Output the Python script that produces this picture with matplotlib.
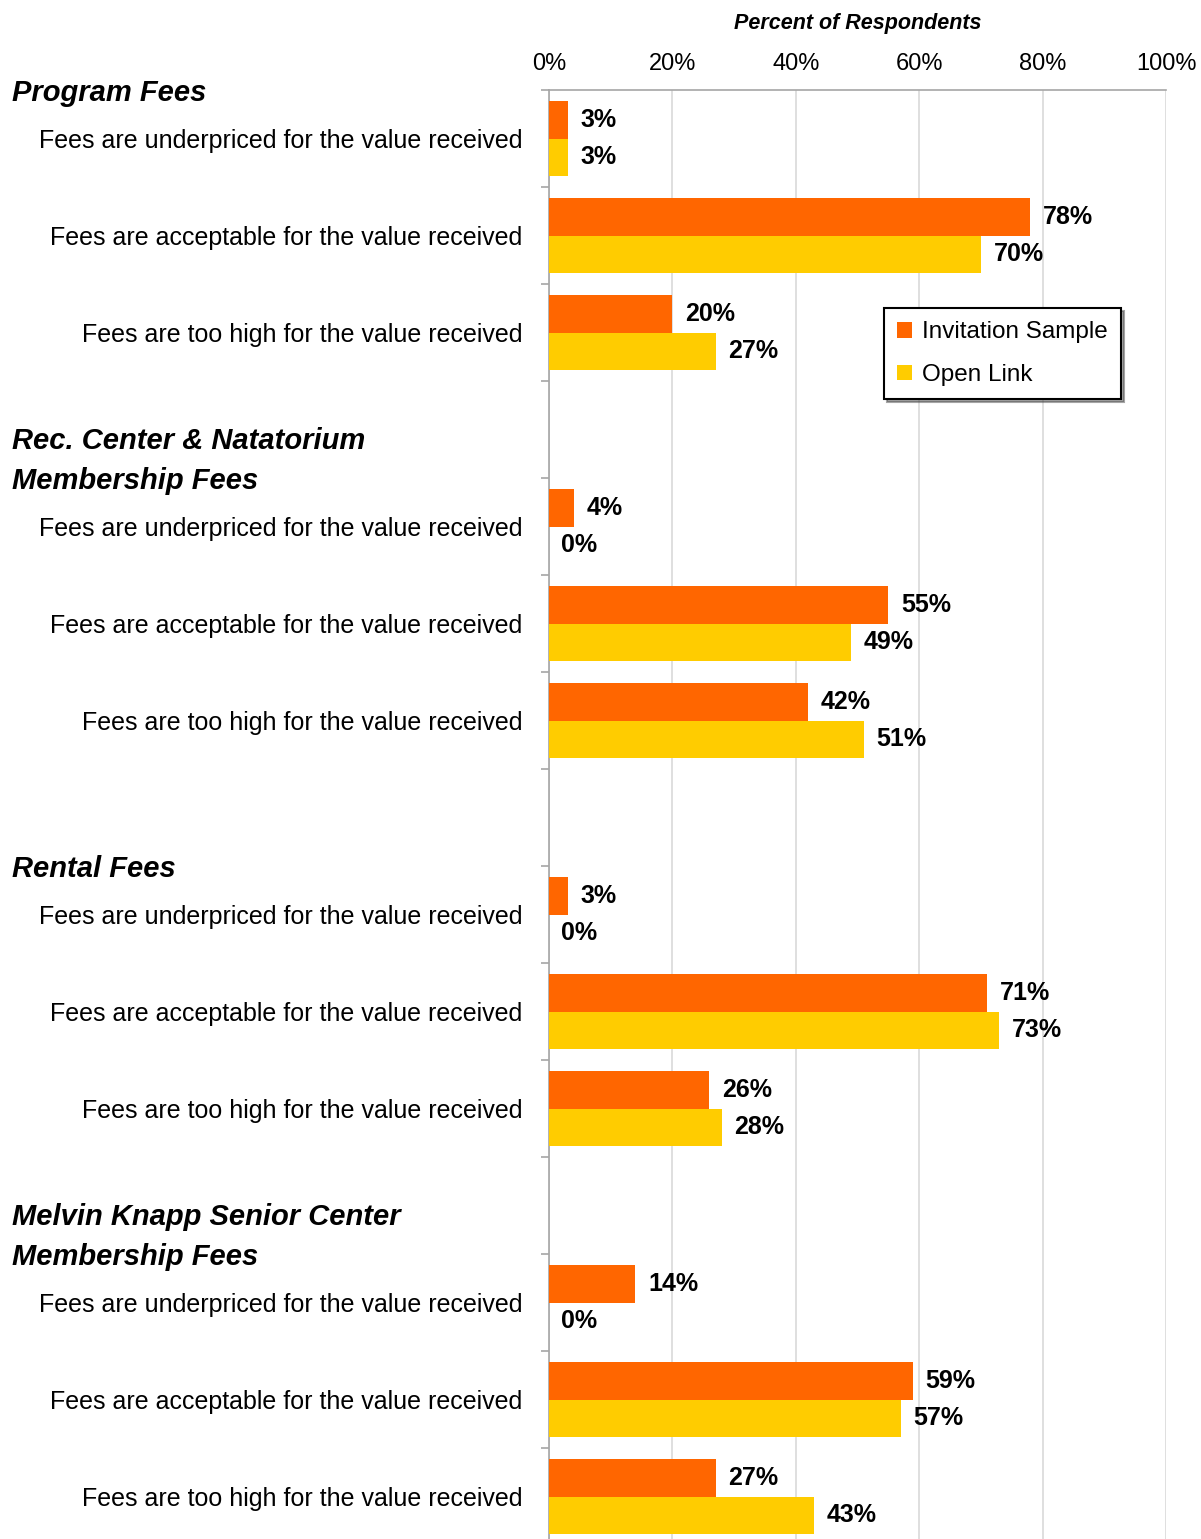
import numpy as np
import matplotlib
matplotlib.use("Agg")
import matplotlib.pyplot as plt
from matplotlib.transforms import blended_transform_factory

plt.rcParams['font.family'] = ['Liberation Sans Narrow', 'Liberation Sans', 'DejaVu Sans']

# Survey data (percent of respondents)
groups = [
    ["Program Fees"],
    ["Rec. Center & Natatorium", "Membership Fees"],
    ["Rental Fees"],
    ["Melvin Knapp Senior Center", "Membership Fees"],
]
responses = [
    "Fees are underpriced for the value received",
    "Fees are acceptable for the value received",
    "Fees are too high for the value received",
]
invitation = [
    [3, 78, 20],
    [4, 55, 42],
    [3, 71, 26],
    [14, 59, 27],
]
open_link = [
    [3, 70, 27],
    [0, 49, 51],
    [0, 73, 28],
    [0, 57, 43],
]
series_names = ["Invitation Sample", "Open Link"]
colors = ["#FF6600", "#FFCC00"]

fig = plt.figure(figsize=(12.01, 15.39), dpi=100)
ax = fig.add_axes([549 / 1201, 1 - 1545 / 1539, 617 / 1201, 1455 / 1539])

# each group takes 3 rows plus one spacer row (except the first)
rows, labels, inv_vals, open_vals, first_rows = [], [], [], [], []
pos = 0
for g in range(len(groups)):
    if g > 0:
        pos += 1
    first_rows.append(pos)
    for r in range(len(responses)):
        rows.append(pos)
        labels.append(responses[r])
        inv_vals.append(invitation[g][r])
        open_vals.append(open_link[g][r])
        pos += 1

rows = np.array(rows)
h = 0.39
b1 = ax.barh(rows - 0.195, inv_vals, height=h, color=colors[0], label=series_names[0], zorder=3)
b2 = ax.barh(rows + 0.195, open_vals, height=h, color=colors[1], label=series_names[1], zorder=3)

for bars, vals in [(b1, inv_vals), (b2, open_vals)]:
    for bar, v in zip(bars, vals):
        ax.annotate(f"{v}%", (v, bar.get_y() + bar.get_height() / 2),
                    xytext=(9, 0), textcoords="offset points",
                    ha="left", va="center", fontsize=18, fontweight="bold")

ax.set_xlim(0, 100)
ax.set_ylim(pos - 0.5, -0.5)
ax.xaxis.tick_top()
ax.set_xticks(np.arange(0, 101, 20))
ax.set_xticklabels([f"{t}%" for t in range(0, 101, 20)])
ax.tick_params(axis="x", length=0, pad=11, labelsize=17)
ax.grid(axis="x", color="#d9d9d9", linewidth=1.2, zorder=0)

ax.set_yticks(rows)
ax.set_yticklabels(labels)
ax.set_yticks(np.arange(-0.5, pos, 1.0), minor=True)
ax.tick_params(axis="y", which="major", length=0, pad=19, labelsize=18)
ax.tick_params(axis="y", which="minor", length=6, width=1.2, color="#a6a6a6")

for side in ["right", "bottom"]:
    ax.spines[side].set_visible(False)
for side in ["left", "top"]:
    ax.spines[side].set_color("#a6a6a6")
    ax.spines[side].set_linewidth(1.2)

# group headings to the left of the label column
trans = blended_transform_factory(fig.transFigure, ax.transData)
for head, fr in zip(groups, first_rows):
    for k, line in enumerate(reversed(head)):
        ax.text(12 / 1201, fr - 0.47 - 0.41 * k, line, transform=trans,
                ha="left", va="center", fontsize=21, fontweight="bold",
                fontstyle="italic", clip_on=False)

fig.text(857.5 / 1201, 1 - 24 / 1539, "Percent of Respondents", ha="center", va="center",
         fontsize=15.5, fontweight="bold", fontstyle="italic")

leg = ax.legend(loc="upper left", bbox_to_anchor=(884 / 1201, 1 - 308 / 1539),
                bbox_transform=fig.transFigure, fontsize=17.5, frameon=True,
                fancybox=False, shadow=True, edgecolor="black",
                handlelength=0.6, handleheight=0.6, handletextpad=0.4,
                borderpad=0.55, labelspacing=0.85, borderaxespad=0)
leg.get_frame().set_linewidth(1.5)

fig.savefig("out.png", dpi=100)
